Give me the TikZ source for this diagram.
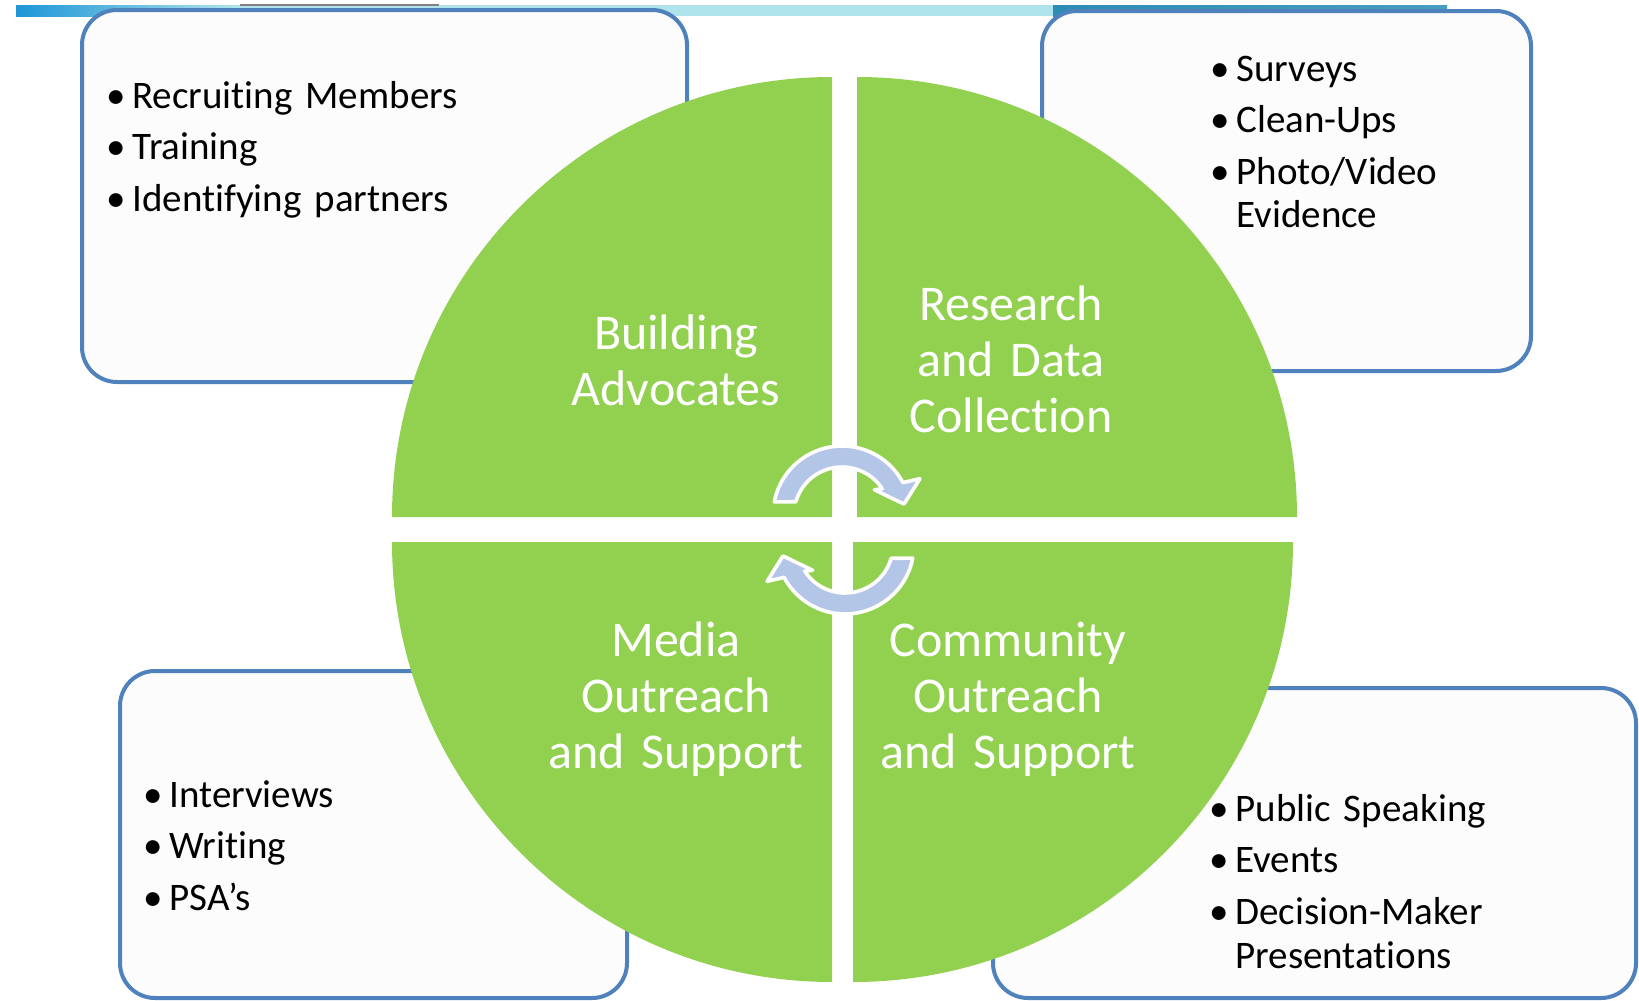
\documentclass[tikz,border=0pt]{standalone}
\usepackage{fontspec}
\setmainfont{Carlito}[RawFeature={-liga;-clig;-calt}]
\usepackage{tikz}
\usepackage{xcolor}
\definecolor{quadgreen}{RGB}{146,208,80}
\definecolor{boxblue}{RGB}{79,129,189}
\definecolor{boxfill}{RGB}{252,252,252}
\definecolor{cycleblue}{RGB}{180,198,231}
\definecolor{barblue}{RGB}{30,150,215}
\definecolor{barcyan}{RGB}{175,228,236}
\definecolor{barteal}{RGB}{45,140,180}
\newcommand{\bul}[1]{\makebox[8pt][c]{\textbullet}\hspace{4pt}#1}
\tikzset{
  listbox/.style={draw=boxblue,fill=boxfill,line width=2pt,rounded corners=17.5pt},
  quadrant/.style={fill=quadgreen},
  quadlabel/.style={anchor=base,text=white,align=center,text width=200pt,inner sep=0pt,font=\fontsize{25}{28}\selectfont},
  bullets/.style={anchor=base west,align=left,text width=220pt,inner sep=0pt,font=\fontsize{19.5}{22}\selectfont},
  cyclearrow/.style={fill=cycleblue,draw=white,line width=1.8pt,line join=round}
}

\begin{document}
\begin{tikzpicture}[x=0.5pt,y=-0.5pt]
            \useasboundingbox (0,0) rectangle (1639,1001);
            \clip (0,0) rectangle (1639,1001);
            \fill[white] (0,0) rectangle (1639,1001);
            \shade[left color=barblue,right color=barcyan] (16,5) rectangle (240,16);
            \fill[barcyan] (240,5) rectangle (1053,16);
            \shade[left color=barteal,right color=barteal!80!barcyan] (1053,5) rectangle (1447,16);
            \draw[gray,line width=1pt] (240,5) -- (439,5);
            \draw[listbox] (82,10) rectangle (687,382);
            \draw[listbox] (1042,11) rectangle (1531,371);
            \draw[listbox] (120,671) rectangle (627,998);
            \draw[listbox] (993,688) rectangle (1636,998);
            \fill[quadrant] (832,517) -- ++(180:440) arc[start angle=180,end angle=270,radius=440] -- cycle;
            \fill[quadrant] (857,517) -- ++(0:440) arc[start angle=0,end angle=-90,radius=440] -- cycle;
            \fill[quadrant] (832,542) -- ++(180:440) arc[start angle=180,end angle=90,radius=440] -- cycle;
            \fill[quadrant] (853,542) -- ++(0:440) arc[start angle=0,end angle=90,radius=440] -- cycle;
            \draw[cyclearrow,shift={(842,515)}] (-169:69) arc[start angle=-169,end angle=-28,radius=69] -- (-25:86) -- (-10:63) -- (-38:41) -- (-33:48) arc[start angle=-33,end angle=-164,radius=48] -- cycle;
            \draw[cyclearrow,shift={(845,545)}] (11:69) arc[start angle=11,end angle=152,radius=69] -- (155:86) -- (170:63) -- (142:41) -- (147:48) arc[start angle=147,end angle=16,radius=48] -- cycle;
            \node[quadlabel] (build) at (676,349) {Building\\Advocates};
            \node[quadlabel] (research) at (1011,320) {Research\\and Data\\Collection};
            \node[quadlabel] (media) at (676,656) {Media\\Outreach\\and Support};
            \node[quadlabel] (community) at (1008,656) {Community\\Outreach\\and Support};
            \node[bullets] (buildlist) at (108,108) {\bul{Recruiting Members}\\[3.75pt]\bul{Training}\\[3.75pt]\bul{Identifying partners}};
            \node[bullets] (researchlist) at (1212,81) {\bul{Surveys}\\[3.75pt]\bul{Clean-Ups}\\[3.75pt]\bul{Photo/Video}\\\hspace*{12pt}Evidence};
            \node[bullets] (medialist) at (145,807) {\bul{Interviews}\\[3.75pt]\bul{Writing}\\[3.75pt]\bul{PSA’s}};
            \node[bullets] (communitylist) at (1211,821) {\bul{Public Speaking}\\[3.75pt]\bul{Events}\\[3.75pt]\bul{Decision-Maker}\\\hspace*{12pt}Presentations};
        \end{tikzpicture}
\end{document}
